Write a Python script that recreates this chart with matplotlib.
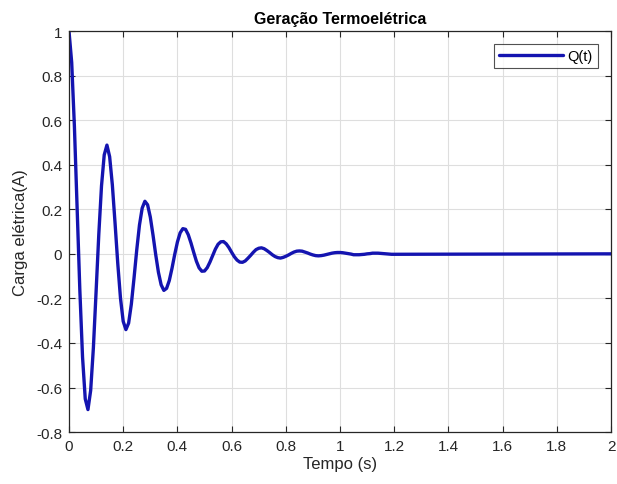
import matplotlib

matplotlib.use("Agg")
import matplotlib.pyplot as plt
import numpy as np

# Q(t) every 0.01 s from 0 to 1.20 s; flat at 0 afterwards.
time_s = list(np.round(np.arange(0, 121) * 0.01, 2)) + [2.0]
charge = [
    1.000, 0.859, 0.572, 0.207, -0.161, -0.463, -0.651, -0.699, -0.613, -0.422,
    -0.170, 0.088, 0.305, 0.444, 0.488, 0.436, 0.309, 0.137, -0.044, -0.199,
    -0.303, -0.340, -0.311, -0.226, -0.108, 0.018, 0.129, 0.205, 0.236, 0.220,
    0.165, 0.084, -0.004, -0.083, -0.139, -0.164, -0.155, -0.120, -0.065, -0.003,
    0.053, 0.094, 0.113, 0.110, 0.086, 0.049, 0.007, -0.033, -0.063, -0.078,
    -0.077, -0.062, -0.037, -0.008, 0.021, 0.043, 0.054, 0.055, 0.045, 0.028,
    0.007, -0.013, -0.028, -0.037, -0.038, -0.032, -0.020, -0.007, 0.007, 0.019,
    0.025, 0.027, 0.023, 0.015, 0.006, -0.004, -0.012, -0.017, -0.019, -0.016,
    -0.011, -0.005, 0.002, 0.008, 0.012, 0.013, 0.012, 0.008, 0.004, -0.001,
    -0.005, -0.008, -0.009, -0.008, -0.006, -0.003, 0.000, 0.003, 0.005, 0.006,
    0.006, 0.005, 0.003, 0.001, -0.001, -0.004, -0.004, -0.004, -0.003, -0.002,
    0.000, 0.001, 0.003, 0.003, 0.003, 0.002, 0.001, 0.000, -0.001, -0.002,
    -0.002, 0.000,
]
x_ticks = [0, 0.2, 0.4, 0.6, 0.8, 1, 1.2, 1.4, 1.6, 1.8, 2]
y_ticks = [-0.8, -0.6, -0.4, -0.2, 0, 0.2, 0.4, 0.6, 0.8, 1]

plt.rcParams["font.family"] = ["Liberation Sans", "DejaVu Sans"]

fig = plt.figure(figsize=(6.17, 4.85), dpi=100)
ax = fig.add_axes([0.1118, 0.107, 0.8787, 0.827])

ax.plot(time_s, charge, color="#1414b0", linewidth=2.4, label="Q(t)",
        solid_joinstyle="round", solid_capstyle="round")

ax.set_xlim(0, 2)
ax.set_ylim(-0.8, 1)
ax.set_xticks(x_ticks)
ax.set_xticklabels([f"{v:g}" for v in x_ticks])
ax.set_yticks(y_ticks)
ax.set_yticklabels([f"{v:g}" for v in y_ticks])
ax.grid(True, color="#dedede", linewidth=0.8)
ax.set_axisbelow(True)
ax.tick_params(direction="in", top=True, right=True, length=4, width=0.8,
               colors="#262626", labelsize=11, pad=5)
for spine in ax.spines.values():
    spine.set_color("#262626")
    spine.set_linewidth(0.9)

ax.set_xlabel("Tempo (s)", fontsize=12, color="#262626", labelpad=2)
ax.set_ylabel("Carga elétrica(A)", fontsize=12, color="#262626", labelpad=6)
ax.set_title("Geração Termoelétrica", fontsize=11.5, fontweight="bold", pad=6)

leg = ax.legend(loc="upper right", fontsize=10.5, frameon=True, fancybox=False,
                edgecolor="#262626", borderaxespad=0.9, handlelength=4.4,
                handletextpad=0.3, borderpad=0.35)
leg.get_frame().set_linewidth(0.8)

fig.savefig("out.png", dpi=100)
